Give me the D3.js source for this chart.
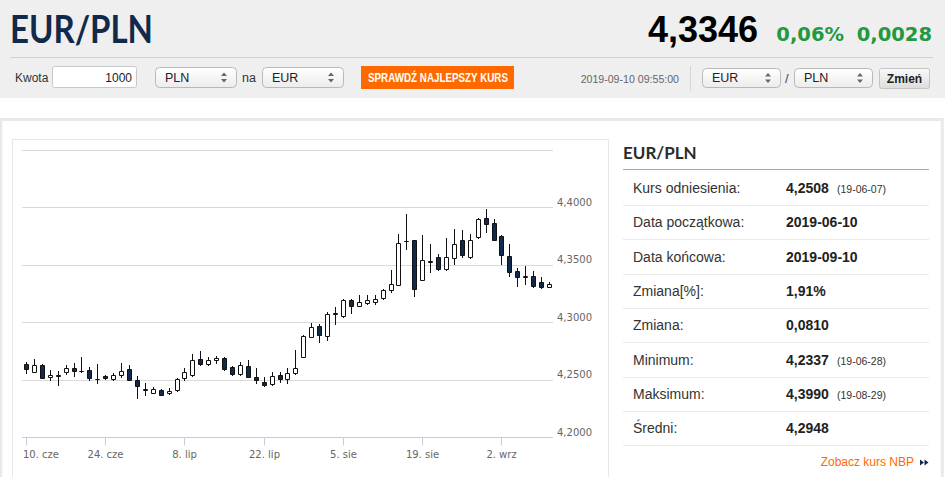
<!DOCTYPE html>
<html>
<head>
<meta charset="utf-8">
<script src="https://cdn.jsdelivr.net/npm/d3@7"></script>
<style>
  body { margin: 0; background: #fff; }
  svg { display: block; font-family: "Liberation Sans", Arial, sans-serif; }
</style>
</head>
<body>
<div id="page"></div>
<script>
// Trading days shown on the chart (ordinal axis)
const dates = [
  "2019-06-10","2019-06-11","2019-06-12","2019-06-13","2019-06-14",
  "2019-06-17","2019-06-18","2019-06-19","2019-06-20","2019-06-21",
  "2019-06-24","2019-06-25","2019-06-26","2019-06-27","2019-06-28",
  "2019-07-01","2019-07-02","2019-07-03","2019-07-04","2019-07-05",
  "2019-07-08","2019-07-09","2019-07-10","2019-07-11","2019-07-12",
  "2019-07-15","2019-07-16","2019-07-17","2019-07-18","2019-07-19",
  "2019-07-22","2019-07-23","2019-07-24","2019-07-25","2019-07-26",
  "2019-07-29","2019-07-30","2019-07-31","2019-08-01","2019-08-02",
  "2019-08-05","2019-08-06","2019-08-07","2019-08-08","2019-08-09",
  "2019-08-12","2019-08-13","2019-08-14","2019-08-15","2019-08-16",
  "2019-08-19","2019-08-20","2019-08-21","2019-08-22","2019-08-23",
  "2019-08-26","2019-08-27","2019-08-28","2019-08-29","2019-08-30",
  "2019-09-02","2019-09-03","2019-09-04","2019-09-05","2019-09-06",
  "2019-09-09","2019-09-10"
];
const openVals = [
  4.2632,4.2565,4.2623,4.2519,4.2533, 4.2562,4.2603,4.2571,4.2583,4.2504,
  4.2530,4.2507,4.2536,4.2588,4.2499, 4.2412,4.2386,4.2412,4.2380,4.2409,
  4.2510,4.2539,4.2678,4.2632,4.2670, 4.2690,4.2611,4.2548,4.2620,4.2525,
  4.2478,4.2458,4.2539,4.2501,4.2554, 4.2699,4.2872,4.2965,4.2883,4.3072,
  4.3055,4.3191,4.3145,4.3171,4.3176, 4.3214,4.3278,4.3328,4.3703,4.3713,
  4.3371,4.3528,4.3568,4.3461,4.3562, 4.3713,4.3568,4.3742,4.3907,4.3864,
  4.3748,4.3577,4.3443,4.3398,4.3400, 4.3351,4.3310
];
const highVals = [
  4.2652,4.2678,4.2638,4.2585,4.2571, 4.2626,4.2646,4.2696,4.2611,4.2635,
  4.2536,4.2559,4.2646,4.2629,4.2528, 4.2467,4.2436,4.2420,4.2423,4.2516,
  4.2597,4.2722,4.2748,4.2699,4.2707, 4.2699,4.2620,4.2655,4.2670,4.2597,
  4.2525,4.2568,4.2568,4.2597,4.2757, 4.2887,4.2989,4.2983,4.3090,4.3133,
  4.3206,4.3200,4.3235,4.3235,4.3238, 4.3293,4.3452,4.3771,4.3945,4.3719,
  4.3757,4.3684,4.3597,4.3737,4.3814, 4.3806,4.3771,4.3907,4.3990,4.3896,
  4.3757,4.3678,4.3475,4.3487,4.3443, 4.3394,4.3351
];
const lowVals = [
  4.2554,4.2562,4.2513,4.2498,4.2449, 4.2548,4.2533,4.2568,4.2496,4.2467,
  4.2504,4.2496,4.2525,4.2493,4.2337, 4.2365,4.2383,4.2365,4.2374,4.2403,
  4.2496,4.2533,4.2626,4.2629,4.2646, 4.2583,4.2542,4.2539,4.2519,4.2467,
  4.2446,4.2452,4.2481,4.2472,4.2545, 4.2693,4.2867,4.2829,4.2843,4.2980,
  4.3046,4.3081,4.3139,4.3162,4.3159, 4.3206,4.3264,4.3322,4.3641,4.3229,
  4.3365,4.3438,4.3452,4.3455,4.3510, 4.3568,4.3562,4.3733,4.3785,4.3713,
  4.3504,4.3403,4.3316,4.3336,4.3310, 4.3301,4.3307
];
const closeVals = [
  4.2591,4.2623,4.2516,4.2542,4.2536, 4.2597,4.2574,4.2574,4.2516,4.2507,
  4.2510,4.2539,4.2577,4.2499,4.2444, 4.2415,4.2415,4.2368,4.2403,4.2507,
  4.2562,4.2675,4.2635,4.2670,4.2687, 4.2591,4.2548,4.2626,4.2525,4.2496,
  4.2452,4.2533,4.2504,4.2559,4.2600, 4.2881,4.2954,4.2887,4.3075,4.3078,
  4.3191,4.3139,4.3176,4.3194,4.3203, 4.3284,4.3336,4.3693,4.3707,4.3293,
  4.3545,4.3532,4.3461,4.3568,4.3684, 4.3583,4.3713,4.3896,4.3852,4.3719,
  4.3583,4.3438,4.3394,4.3401,4.3316, 4.3307,4.3336
];

const tickDates = ["2019-06-10","2019-06-24","2019-07-08","2019-07-22","2019-08-05","2019-08-19","2019-09-02"];
const tickLabels = ["10. cze","24. cze","8. lip","22. lip","5. sie","19. sie","2. wrz"];
const yTicks = [4.20, 4.25, 4.30, 4.35, 4.40, 4.45];

const statLabels = ["Kurs odniesienia:","Data początkowa:","Data końcowa:","Zmiana[%]:","Zmiana:","Minimum:","Maksimum:","Średni:"];
const statValues = ["4,2508","2019-06-10","2019-09-10","1,91%","0,0810","4,2337","4,3990","4,2948"];
const statNotes = ["(19-06-07)","","","","","(19-06-28)","(19-08-29)",""];

const W = 945, H = 477;
const svg = d3.select("#page").append("svg").attr("width", W).attr("height", H);
const defs = svg.append("defs");

const selGrad = defs.append("linearGradient").attr("id", "selGrad").attr("x1", 0).attr("y1", 0).attr("x2", 0).attr("y2", 1);
selGrad.append("stop").attr("offset", "0%").attr("stop-color", "#ffffff");
selGrad.append("stop").attr("offset", "100%").attr("stop-color", "#ececec");
const btnGrad = defs.append("linearGradient").attr("id", "btnGrad").attr("x1", 0).attr("y1", 0).attr("x2", 0).attr("y2", 1);
btnGrad.append("stop").attr("offset", "0%").attr("stop-color", "#fafafa");
btnGrad.append("stop").attr("offset", "100%").attr("stop-color", "#dcdcdc");

// ---------- header ----------
svg.append("rect").attr("x", 0).attr("y", 0).attr("width", W).attr("height", 98).attr("fill", "#efefef");

svg.append("text")
  .attr("x", 10).attr("y", 43)
  .attr("font-family", "Lato, 'Open Sans', sans-serif")
  .attr("font-weight", 700).attr("font-size", 38)
  .attr("fill", "#11294a")
  .attr("textLength", 143).attr("lengthAdjust", "spacingAndGlyphs")
  .text("EUR/PLN");

svg.append("text")
  .attr("x", 758).attr("y", 42).attr("text-anchor", "end")
  .attr("font-weight", 700).attr("font-size", 36).attr("fill", "#000")
  .text("4,3346");
svg.append("text")
  .attr("x", 844).attr("y", 41).attr("text-anchor", "end")
  .attr("font-family", "'DejaVu Sans', Verdana, sans-serif")
  .attr("font-weight", 700).attr("font-size", 19.5).attr("fill", "#23983f")
  .text("0,06%");
svg.append("text")
  .attr("x", 932).attr("y", 41).attr("text-anchor", "end")
  .attr("font-family", "'DejaVu Sans', Verdana, sans-serif")
  .attr("font-weight", 700).attr("font-size", 19.5).attr("fill", "#23983f")
  .text("0,0028");

svg.append("line")
  .attr("x1", 10).attr("x2", 933).attr("y1", 57.5).attr("y2", 57.5)
  .attr("stroke", "#d2d2d2");

// form row
svg.append("text").attr("x", 15).attr("y", 82).attr("font-size", 12).attr("fill", "#333").text("Kwota");
svg.append("rect").attr("x", 52.5).attr("y", 66.5).attr("width", 84).attr("height", 21).attr("rx", 2)
  .attr("fill", "#fff").attr("stroke", "#c8c8c8");
svg.append("text").attr("x", 132).attr("y", 82).attr("text-anchor", "end").attr("font-size", 12).attr("fill", "#222").text("1000");

function drawSelect(x, y, w, h, label) {
  const g = svg.append("g").attr("transform", `translate(${x},${y})`);
  g.append("rect").attr("x", 0.5).attr("y", 0.5).attr("width", w).attr("height", h).attr("rx", 4)
    .attr("fill", "url(#selGrad)").attr("stroke", "#b9b9b9");
  g.append("text").attr("x", 10).attr("y", h / 2 + 4.5).attr("font-size", 12.5).attr("fill", "#222").text(label);
  const ax = w - 12, ay = h / 2 + 0.5;
  g.append("path").attr("d", `M${ax - 3},${ay - 1.5} L${ax},${ay - 5} L${ax + 3},${ay - 1.5} Z`).attr("fill", "#666");
  g.append("path").attr("d", `M${ax - 3},${ay + 1.5} L${ax},${ay + 5} L${ax + 3},${ay + 1.5} Z`).attr("fill", "#666");
}
drawSelect(155, 67, 81, 20, "PLN");
svg.append("text").attr("x", 242).attr("y", 82).attr("font-size", 12.5).attr("fill", "#333").text("na");
drawSelect(262, 67, 81, 20, "EUR");

svg.append("rect").attr("x", 361).attr("y", 66).attr("width", 153).attr("height", 23).attr("fill", "#ff6a00");
svg.append("text").attr("x", 368).attr("y", 82)
  .attr("font-weight", 700).attr("font-size", 12).attr("fill", "#fff")
  .attr("textLength", 140).attr("lengthAdjust", "spacingAndGlyphs")
  .text("SPRAWDŹ NAJLEPSZY KURS");

svg.append("text").attr("x", 679).attr("y", 83).attr("text-anchor", "end")
  .attr("font-size", 10.6).attr("fill", "#666").text("2019-09-10 09:55:00");
svg.append("line").attr("x1", 690.5).attr("x2", 690.5).attr("y1", 66).attr("y2", 91).attr("stroke", "#d6d6d6");
drawSelect(702, 68, 78, 19, "EUR");
svg.append("text").attr("x", 785).attr("y", 83).attr("font-size", 13).attr("fill", "#444").text("/");
drawSelect(794, 68, 78, 19, "PLN");
svg.append("rect").attr("x", 879.5).attr("y", 68.5).attr("width", 50).attr("height", 20).attr("rx", 2)
  .attr("fill", "url(#btnGrad)").attr("stroke", "#c4c4c4");
svg.append("text").attr("x", 904.5).attr("y", 83).attr("text-anchor", "middle")
  .attr("font-weight", 700).attr("font-size", 12).attr("fill", "#222").text("Zmień");

// ---------- content frames ----------
svg.append("rect").attr("x", 0.75).attr("y", 119.5).attr("width", 941.5).attr("height", 370)
  .attr("fill", "none").attr("stroke", "#e9e9e9").attr("stroke-width", 3);
svg.append("rect").attr("x", 12.5).attr("y", 139.5).attr("width", 596).attr("height", 360)
  .attr("fill", "#fff").attr("stroke", "#e8e8e8");

// ---------- candlestick chart ----------
const data = dates.map((d, i) => ({
  date: d, open: openVals[i], high: highVals[i], low: lowVals[i], close: closeVals[i]
}));

const plot = { left: 22, right: 553, top: 150, bottom: 437 };
const x = d3.scaleBand().domain(dates).range([plot.left, plot.right]);
const y = d3.scaleLinear().domain([4.20, 4.45]).range([plot.bottom, plot.top]);
const cx = d => Math.round(x(d) + x.bandwidth() / 2);
const ry = v => Math.round(y(v)) + 0.5;

const chart = svg.append("g");

// grid lines
chart.selectAll(".grid").data(yTicks.filter(v => v > 4.2)).enter().append("line")
  .attr("x1", plot.left).attr("x2", plot.right)
  .attr("y1", d => ry(d)).attr("y2", d => ry(d))
  .attr("stroke", "#d9d9d9");

// y labels (right side, above their grid line)
chart.selectAll(".ylab").data(yTicks.filter(v => v < 4.45)).enter().append("text")
  .attr("x", 557).attr("y", d => y(d) - 1.5)
  .attr("font-family", "'DejaVu Sans', Verdana, sans-serif")
  .attr("font-size", 10).attr("fill", "#666")
  .text(d => d3.format(".4f")(d).replace(".", ","));

// x axis
const xAxis = d3.axisBottom(x)
  .tickValues(tickDates)
  .tickSize(8)
  .tickFormat(d => tickLabels[tickDates.indexOf(d)]);
const gx = chart.append("g")
  .attr("transform", `translate(0,${plot.bottom + 0.5})`)
  .call(xAxis);
gx.select(".domain").attr("d", `M${plot.left},0H${plot.right}`).attr("stroke", "#c0d0e0");
gx.selectAll(".tick").attr("transform", d => `translate(${cx(d) + 0.5},0)`);
gx.selectAll(".tick line").attr("stroke", "#c0d0e0");
gx.selectAll(".tick text")
  .attr("y", 13).attr("dy", "0.71em")
  .attr("font-family", "'DejaVu Sans', Verdana, sans-serif")
  .attr("font-size", 10).attr("fill", "#666");
gx.selectAll(".tick text").each(function() {
  const t = d3.select(this);
  const b = this.getBBox();
  const tr = this.parentNode.getAttribute("transform");
  const tx = +tr.match(/translate\(([-\d.]+)/)[1];
  if (tx + b.x < plot.left) t.attr("x", plot.left + 1 - (tx + b.x));
});

// candles
const candles = chart.selectAll(".candle").data(data).enter().append("g");
candles.append("line")
  .attr("x1", d => cx(d.date) + 0.5).attr("x2", d => cx(d.date) + 0.5)
  .attr("y1", d => Math.round(y(d.high))).attr("y2", d => Math.round(y(d.low)) + 1)
  .attr("stroke", "#111").attr("stroke-width", 1);
candles.append("path")
  .attr("d", d => {
    const c = cx(d.date);
    const top = ry(Math.max(d.open, d.close));
    const bot = ry(Math.min(d.open, d.close));
    return `M${c - 1.5},${top}H${c + 2.5}V${bot}H${c - 1.5}Z`;
  })
  .attr("fill", d => d.close < d.open ? "#0f2a4d" : "#ffffff")
  .attr("stroke", "#111").attr("stroke-width", 1);

// ---------- right stats panel ----------
svg.append("text").attr("x", 623).attr("y", 159)
  .attr("font-family", "Lato, 'Open Sans', sans-serif")
  .attr("font-weight", 700).attr("font-size", 17).attr("fill", "#2b2b2b")
  .text("EUR/PLN");
svg.append("line").attr("x1", 623).attr("x2", 929).attr("y1", 169.5).attr("y2", 169.5).attr("stroke", "#a8a8a8");

const rowY = statLabels.map((_, i) => 205 + i * 34.3);
const rows = svg.selectAll(".row").data(statLabels).enter().append("g");
rows.append("line")
  .attr("x1", 623).attr("x2", 929)
  .attr("y1", (d, i) => Math.round(rowY[i]) + 0.5).attr("y2", (d, i) => Math.round(rowY[i]) + 0.5)
  .attr("stroke", "#ebebeb");
rows.append("text")
  .attr("x", 633).attr("y", (d, i) => rowY[i] - 12)
  .attr("font-size", 14).attr("fill", "#333")
  .text(d => d);
rows.append("text")
  .attr("x", 786).attr("y", (d, i) => rowY[i] - 12)
  .attr("font-weight", 700).attr("font-size", 14).attr("fill", "#222")
  .text((d, i) => statValues[i]);
rows.append("text")
  .attr("x", 837).attr("y", (d, i) => rowY[i] - 12)
  .attr("font-size", 10.5).attr("fill", "#333")
  .text((d, i) => statNotes[i]);

svg.append("text").attr("x", 914).attr("y", 466).attr("text-anchor", "end")
  .attr("font-size", 12).attr("fill", "#ff6a00").text("Zobacz kurs NBP");
svg.append("path").attr("d", "M920,459.5 L924,462.5 L920,465.5 Z M924.5,459.5 L928.5,462.5 L924.5,465.5 Z")
  .attr("fill", "#11294a");
</script>
</body>
</html>
